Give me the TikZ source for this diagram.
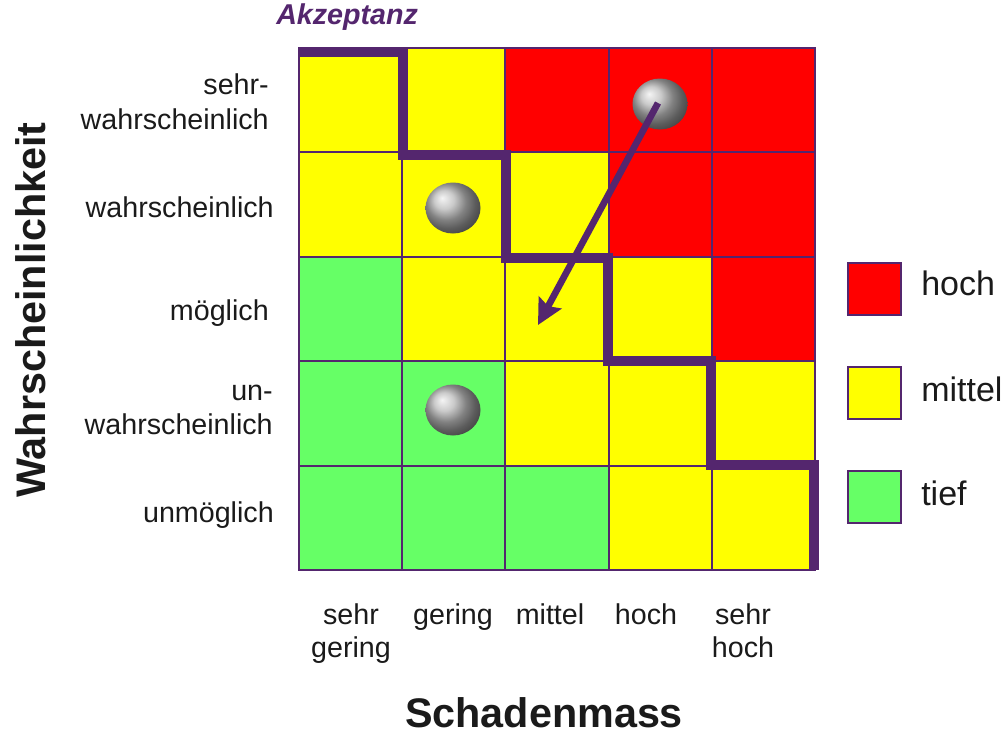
\documentclass[tikz,border=0pt]{standalone}
\usepackage{fontspec}
\setmainfont{Liberation Sans}
\usetikzlibrary{arrows.meta}
\definecolor{akzept}{RGB}{84,38,110}
\definecolor{rot}{RGB}{255,0,0}
\definecolor{gelb}{RGB}{255,255,0}
\definecolor{gruen}{RGB}{102,255,102}
\definecolor{textgrau}{RGB}{26,26,26}

\begin{document}
\begin{tikzpicture}[x=0.75pt, y=-0.75pt, >={Stealth[length=19pt, width=19pt, inset=3pt]},
  feld/.style={draw=akzept, line width=1.5pt},
  legfeld/.style={draw=akzept, line width=2.2pt},
  zeile/.style={font=\fontsize{21.5}{26}\selectfont, text=textgrau, align=right, anchor=east, inner sep=0pt},
  spalte/.style={font=\fontsize{21.5}{25}\selectfont, text=textgrau, align=center, inner sep=0pt},
  legende/.style={font=\fontsize{25.5}{30}\selectfont, text=textgrau, anchor=west, inner sep=0pt},
  kugel/.style={ball color=gray!55}]
  \useasboundingbox (0,0) rectangle (1008,736);

  % Risikomatrix, Zeilen von oben nach unten
  \foreach \farben [count=\r from 0] in {{gelb,gelb,rot,rot,rot},{gelb,gelb,gelb,rot,rot},
      {gruen,gelb,gelb,gelb,rot},{gruen,gruen,gelb,gelb,gelb},{gruen,gruen,gruen,gelb,gelb}}
    \foreach \f [count=\c from 0] in \farben
      \filldraw[feld, fill=\f] ({299+103.2*\c},{48+104.4*\r}) rectangle ++(103.2,104.4);

  % Akzeptanzlinie
  \draw[akzept, line width=7.5pt] (299,52) -- (403,52) -- (403,155) -- (506,155) -- (506,258)
    -- (608,258) -- (608,361) -- (711,361) -- (711,465) -- (814,465) -- (814,570);
  \node[font=\bfseries\itshape\fontsize{21.5}{26}\selectfont, text=akzept, anchor=west, inner sep=0pt]
    (akz) at (276,17) {Akzeptanz};

  % Kugeln
  \coordinate (kugelA) at (660,104);
  \coordinate (kugelB) at (453,208);
  \coordinate (kugelC) at (453,410);
  \coordinate (ziel) at (538,325);
  \foreach \k in {kugelA,kugelB,kugelC}
    \shade[kugel] (\k) ellipse [x radius=27.5, y radius=25.5];
  \draw[akzept, line width=5pt, ->] (658,103) -- (ziel);

  % Zeilenbeschriftung
  \node[zeile] (sw) at (269,102) {sehr-\\wahrscheinlich};
  \node[zeile] (w) at (274,207.5) {wahrscheinlich};
  \node[zeile] (m) at (269,313) {möglich};
  \node[zeile] (uw) at (273,410) {un-\\wahrscheinlich};
  \node[zeile] (um) at (274,515.5) {unmöglich};

  % Spaltenbeschriftung
  \node[spalte] (sg) at (351,633.5) {sehr\\gering};
  \node[spalte] (g) at (453,617) {gering};
  \node[spalte] (mi) at (550,614) {mittel};
  \node[spalte] (h) at (646,614) {hoch};
  \node[spalte] (sh) at (743,630.5) {sehr\\hoch};

  % Achsentitel
  \node[font=\bfseries\fontsize{31}{36}\selectfont, text=textgrau, rotate=90, inner sep=0pt]
    (wahrs) at (31,310) {Wahrscheinlichkeit};
  \node[font=\bfseries\fontsize{31}{36}\selectfont, text=textgrau, inner sep=0pt]
    (schaden) at (544,713) {Schadenmass};

  % Legende
  \filldraw[legfeld, fill=rot] (848,263) rectangle (901,315);
  \filldraw[legfeld, fill=gelb] (848,367) rectangle (901,419);
  \filldraw[legfeld, fill=gruen] (848,471) rectangle (901,523);
  \node[legende] (lh) at (921,283) {hoch};
  \node[legende] (lm) at (921,389) {mittel};
  \node[legende] (lt) at (921,493) {tief};
\end{tikzpicture}
\end{document}
